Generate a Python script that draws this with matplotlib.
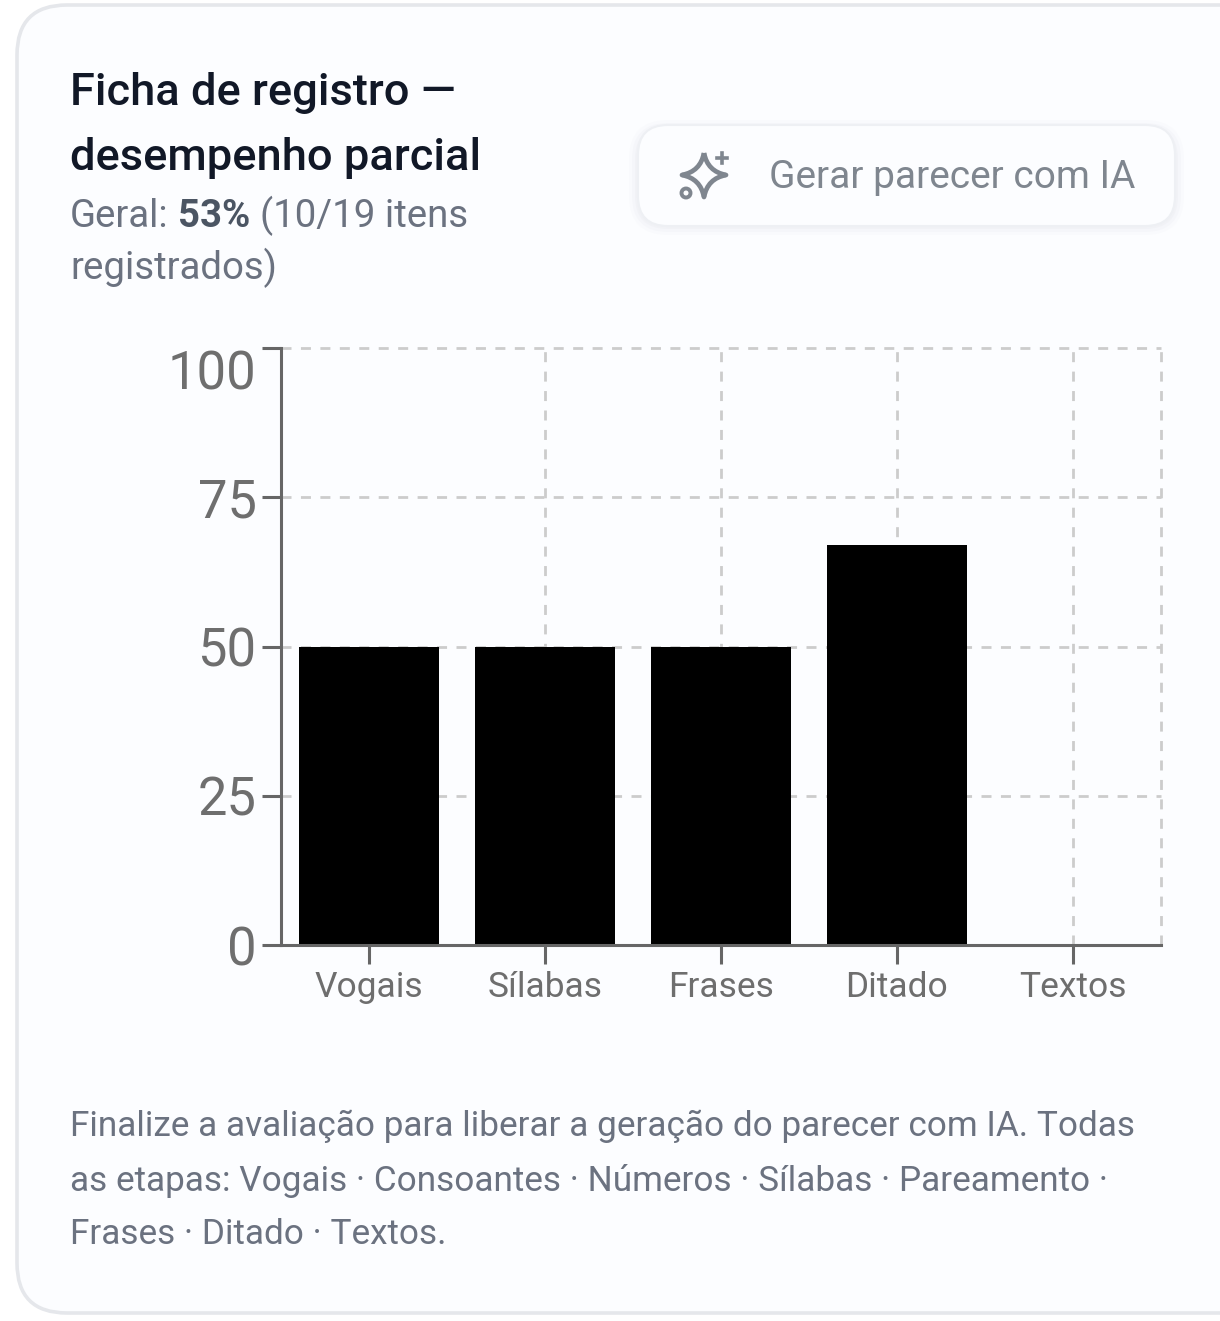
import matplotlib
matplotlib.use('Agg')
import matplotlib.pyplot as plt
from matplotlib.patches import FancyBboxPatch, PathPatch, Circle
from matplotlib.path import Path
from matplotlib.transforms import ScaledTranslation

plt.rcParams['font.family'] = ['Roboto', 'DejaVu Sans']

categories = ['Vogais', 'Sílabas', 'Frases', 'Ditado', 'Textos']
values = [50, 50, 50, 67, 0]
y_ticks = [0, 25, 50, 75, 100]
title_lines = ['Ficha de registro —', 'desempenho parcial']
note_lines = ['Finalize a avaliação para liberar a geração do parecer com IA. Todas',
              'as etapas: Vogais · Consoantes · Números · Sílabas · Pareamento ·',
              'Frases · Ditado · Textos.']

W, H = 1220, 1321
CARD = '#fcfdff'
AXIS = '#666666'
GRID = '#cccccc'
DARK = '#111827'
GRAY = '#6b7280'
ICON = '#7f868f'

fig = plt.figure(figsize=(W / 100, H / 100), dpi=100, facecolor='white')

# page layer in pixel coordinates
bg = fig.add_axes([0, 0, 1, 1], zorder=0)
bg.set_xlim(0, W)
bg.set_ylim(H, 0)
bg.axis('off')

def rounded(x0, y0, x1, y1, r, **kw):
    p = FancyBboxPatch((x0, y0), x1 - x0, y1 - y0,
                       boxstyle='round,pad=0,rounding_size=%d' % r, **kw)
    bg.add_patch(p)
    return p

rounded(17, 5, 1300, 1313, 50, fc=CARD, ec='#e5e7eb', lw=2.6)

# button with a soft shadow
for grow, alpha in [(9, 0.10), (6, 0.16), (3, 0.22)]:
    rounded(638 - grow, 129 - grow, 1175 + grow, 226 + grow, 30 + grow,
            fc='#e3e6ec', ec='none', alpha=alpha)
rounded(638, 125, 1175, 226, 30, fc=CARD, ec='#eef0f4', lw=1.5)

# sparkle icon
cx, cy = 704, 175
arm, waist = 22, 3.5
star = [(cx, cy - arm), (cx + waist, cy - waist), (cx + arm, cy), (cx + waist, cy + waist), (cx, cy + arm),
        (cx - waist, cy + waist), (cx - arm, cy), (cx - waist, cy - waist), (cx, cy - arm)]
verts = [star[0]]
codes = [Path.MOVETO]
for i in range(1, 8, 2):
    verts += [star[i], star[i + 1]]
    codes += [Path.CURVE3, Path.CURVE3]
bg.add_patch(PathPatch(Path(verts, codes), fc='none', ec=ICON, lw=3.4, joinstyle='round'))
bg.plot([722, 722], [153, 163], color=ICON, lw=2.6)
bg.plot([717, 727], [158, 158], color=ICON, lw=2.6)
bg.add_patch(Circle((686, 193), 4.5, fc='none', ec=ICON, lw=2.8))

bg.text(769, 188, 'Gerar parecer com IA', fontsize=28, color=ICON, va='baseline')

for line, y in zip(title_lines, [105, 170]):
    bg.text(70, y, line, fontsize=32.6, fontweight='medium', color=DARK, va='baseline')

bg.text(70, 227, 'Geral:', fontsize=27.6, color=GRAY, va='baseline')
bg.text(178, 227, '53%', fontsize=27.6, fontweight='bold', color='#4b5563', va='baseline')
bg.text(260, 227, '(10/19 itens', fontsize=27.6, color=GRAY, va='baseline')
bg.text(70, 279, 'registrados)', fontsize=27.6, color=GRAY, va='baseline')

for line, y in zip(note_lines, [1136, 1191, 1244]):
    bg.text(70, y, line, fontsize=25.25, color=GRAY, va='baseline')

# chart
ax = fig.add_axes([281 / W, (H - 945) / H, 880 / W, 597 / H], zorder=1)
ax.patch.set_alpha(0)
xs = list(range(len(categories)))
ax.set_xlim(-0.5, len(categories) - 0.5)
ax.set_ylim(0, 100)

for v in y_ticks[1:]:
    ax.axhline(v, color=GRID, lw=2.0, dashes=(3.6, 3.4), zorder=1, clip_on=False)
for x in xs[1:] + [len(categories) - 0.5]:
    ax.axvline(x, color=GRID, lw=2.0, dashes=(3.6, 3.4), zorder=1, clip_on=False)

ax.bar(xs, values, width=0.79, color='black', zorder=2)

for s in ['top', 'right']:
    ax.spines[s].set_visible(False)
for s in ['left', 'bottom']:
    ax.spines[s].set_color(AXIS)
    ax.spines[s].set_linewidth(2.2)
    ax.spines[s].set_zorder(3)

ax.set_xticks(xs, categories)
ax.set_yticks(y_ticks)
ax.tick_params(axis='x', length=14, width=2.2, color=AXIS, labelcolor='#6e6e6e', labelsize=25.5, pad=5)
ax.tick_params(axis='y', length=14, width=2.2, color=AXIS, labelcolor='#6e6e6e', labelsize=37.8, pad=3.5)
top = ax.get_yticklabels()[-1]
top.set_va('top')
top.set_transform(top.get_transform() + ScaledTranslation(0, -2 / 100, fig.dpi_scale_trans))

fig.savefig('out.png', dpi=100, facecolor='white')
